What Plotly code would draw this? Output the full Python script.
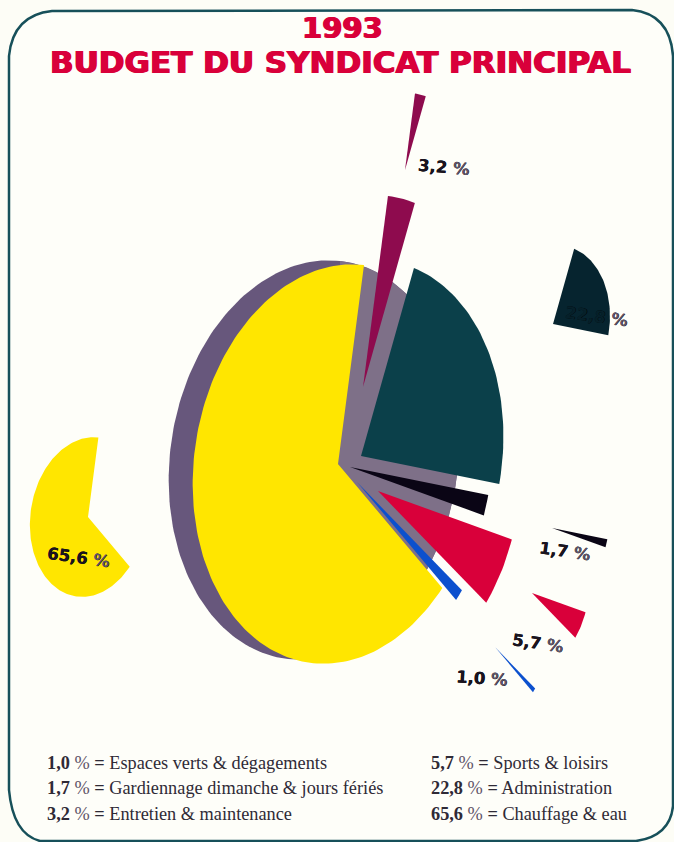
import math
import plotly.graph_objects as go

# Budget shares, clockwise from the top of the disc
categories = ["Entretien & maintenance", "Administration",
              "Gardiennage dimanche & jours fériés", "Sports & loisirs",
              "Espaces verts & dégagements", "Chauffage & eau"]
shares = [3.2, 22.8, 1.7, 5.7, 1.0, 65.6]

# Legend reading order (left column, then right column)
legend_order = [4, 2, 0, 3, 1, 5]

title_year = "1993"
title_main = "BUDGET DU SYNDICAT PRINCIPAL"

# Slice styling and placement
face_colors = ["#8E0B4E", "#0B404A", "#0A0515", "#D9003A", "#0C50CE", "#FFE600"]
small_colors = ["#8E0B4E", "#06242F", "#0A0515", "#D9003A", "#0C50CE", "#FFE600"]
explode_x = [25, 23, 12, 40, 19, 0]
explode_y = [-77, -8, 3, 27, 18, 0]
radius_factor = [0.96, 0.98, 0.98, 0.98, 0.95, 1.0]
small_factor = [0.96, 0.98, 0.98, 0.98, 0.91, 1.0]
small_apex_x = [405, 553, 552, 532, 495, 88]
small_apex_y = [170, 324, 528, 593, 647, 517]
small_scale = 0.4

# Tilted disc: centre plus the two screen-space semi-axes
CENTER = (338, 464)
AXIS_A = (143, 16)
AXIS_B = (26, -199)
BACK_CENTER = (314, 460)
BACK_DARK = "#67577C"
BACK_LIGHT = "#7E7088"


def disc_point(angle_deg, cx, cy, scale=1.0):
    a = math.radians(angle_deg)
    return (cx + scale * (AXIS_A[0] * math.sin(a) + AXIS_B[0] * math.cos(a)),
            cy + scale * (AXIS_A[1] * math.sin(a) + AXIS_B[1] * math.cos(a)))


def wedge(start_deg, end_deg, cx, cy, scale=1.0):
    steps = max(2, int((end_deg - start_deg) / 1.5))
    rim = [disc_point(start_deg + (end_deg - start_deg) * i / steps, cx, cy, scale)
           for i in range(steps + 1)]
    pts = [(cx, cy)] + rim + [(cx, cy)]
    return [p[0] for p in pts], [p[1] for p in pts]


def filled(xs, ys, color, name):
    return go.Scatter(x=xs, y=ys, mode="lines", fill="toself", fillcolor=color,
                      line=dict(width=0, color=color), name=name, hoverinfo="name")


def label_of(value):
    return f"{value:.1f}".replace(".", ",")


fig = go.Figure()

# Side of the disc and the floor left visible behind the pulled slices
total = sum(shares)
spans = []
running = 0.0
for v in shares:
    spans.append((running * 360 / total, (running + v) * 360 / total))
    running += v

rim_xs, rim_ys = wedge(0, 360, *BACK_CENTER)
fig.add_trace(filled(rim_xs[1:-1], rim_ys[1:-1], BACK_DARK, "Tranche"))
floor = [disc_point(spans[0][0] + (spans[4][1] - spans[0][0]) * i / 60, *BACK_CENTER)
         for i in range(61)]
fig.add_trace(filled([CENTER[0]] + [p[0] for p in floor] + [CENTER[0]],
                     [CENTER[1]] + [p[1] for p in floor] + [CENTER[1]],
                     BACK_LIGHT, "Fond"))

# Large slices, the biggest first so that the others sit on top
for i in [5, 1, 2, 3, 4, 0]:
    xs, ys = wedge(spans[i][0], spans[i][1],
                   CENTER[0] + explode_x[i], CENTER[1] + explode_y[i], radius_factor[i])
    fig.add_trace(filled(xs, ys, face_colors[i], categories[i]))

# Detached small copies of each slice
for i in range(6):
    xs, ys = wedge(spans[i][0], spans[i][1], small_apex_x[i], small_apex_y[i],
                   small_scale * small_factor[i])
    fig.add_trace(filled(xs, ys, small_colors[i], categories[i]))

annotations = []


def put(x, y, text, size, color="#1A1420", family="DejaVu Sans", weight=700, angle=0,
        anchor="center", shadow="none"):
    annotations.append(dict(x=x, y=y, xref="x", yref="y", text=text, showarrow=False,
                            xanchor=anchor, yanchor="middle", textangle=angle,
                            font=dict(family=family, size=size, color=color, weight=weight,
                                      shadow=shadow)))


# Thickened strokes give the headings their heavy poster look
heavy_red = "0.8px 0 0 #D9003A, -0.8px 0 0 #D9003A"
put(342, 28, title_year, 29, "#D9003A", shadow=heavy_red)
put(340, 62, title_main, 31, "#D9003A", shadow=heavy_red)


def pct(value, grey="#5F5468"):
    return f"{label_of(value)} <span style='color:{grey}'>%</span>"


# Percentage labels next to the small copies
label_x = [444, 596, 565, 538, 482, 78]
label_y = [167, 316, 551, 643, 678, 557]
label_angle = [5, 8, 8, 8, 4, 8]
for i in range(6):
    put(label_x[i], label_y[i], pct(shares[i]), 16.5, "#1A1420" if i != 1 else "#06202A",
        angle=label_angle[i], shadow="0.3px 0 0 currentColor")

# Legend, two columns of three rows
legend_col_x = [45, 429]
legend_row_y = [763, 788, 814]
for n, idx in enumerate(legend_order):
    put(legend_col_x[n // 3], legend_row_y[n % 3],
        f"<b>{label_of(shares[idx])}</b> <span style='color:#5F5468'>%</span> <b>=</b> {categories[idx]}",
        18.3, "#2F2A36", family="Liberation Serif", weight=400, anchor="left")

frame = ("M 52 11 L 632 10 Q 670 14 673 56 L 673 806 Q 670 836 636 841 "
         "L 40 841 Q 13 834 9 790 L 9 56 Q 13 15 52 11 Z")

fig.update_layout(
    width=674, height=842, margin=dict(l=0, r=0, t=0, b=0),
    paper_bgcolor="#FDFDF6", plot_bgcolor="#FDFDF6", showlegend=False,
    xaxis=dict(range=[0, 674], visible=False, fixedrange=True),
    yaxis=dict(range=[842, 0], visible=False, fixedrange=True),
    annotations=annotations,
    shapes=[dict(type="path", path=frame, xref="x", yref="y", layer="below",
                 line=dict(color="#17505A", width=2.5), fillcolor="#FEFEF9")],
)

fig.write_html("out.html", config=dict(displayModeBar=False))
